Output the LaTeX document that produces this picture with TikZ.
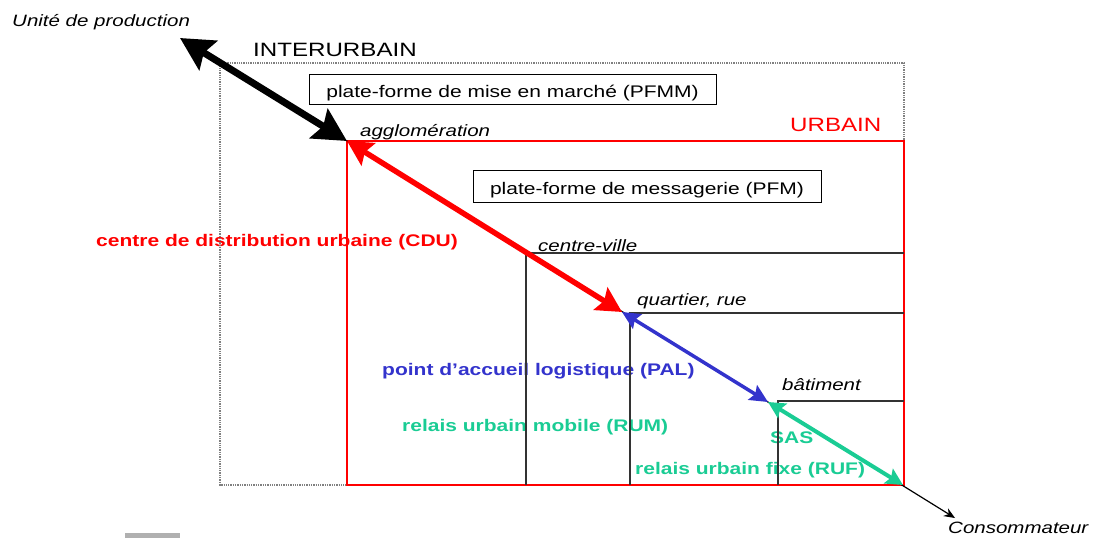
\documentclass[tikz,border=0pt]{standalone}
\usepackage{fontspec}
\setmainfont{Liberation Sans}[FakeStretch=1.25]
\usepackage{tikz}
\usetikzlibrary{arrows.meta,positioning}
\definecolor{palblue}{RGB}{51,51,204}
\definecolor{rugreen}{RGB}{26,204,148}
\definecolor{bargray}{RGB}{176,176,176}
\newcommand{\txtsize}{\fontsize{16.8}{20}\selectfont}
\newcommand{\smallsize}{\fontsize{16.4}{20}\selectfont}
\newcommand{\zonesize}{\fontsize{19.3}{23}\selectfont}

\begin{document}
\begin{tikzpicture}[x=1pt,y=-1pt,
    lab/.style={anchor=base west,inner sep=0pt,font=\txtsize},
    place/.style={anchor=base west,inner sep=0pt,font=\smallsize\itshape},
    zone/.style={anchor=base west,inner sep=0pt,font=\zonesize},
    pfbox/.style={draw,line width=1pt,font=\txtsize,text height=17pt,text depth=0pt,inner sep=0pt},
    sep/.style={black!80,line width=1.1pt}]
      % Fix picture size
      \useasboundingbox (0,0) rectangle (1093,538);
      % Define coordinates
      \coordinate (prod) at (180,38);
      \coordinate (agglo) at (347,141);
      \coordinate (quart) at (622,312);
      \coordinate (bat) at (768,402);
      \coordinate (ruf) at (903,485);
      \coordinate (conso) at (955,518);
      % Labels
      \node[place] (lprod) at (12,27) {Unité de production};
      \node[zone] (linter) at (253,56) {INTERURBAIN};
      \node[zone,red] (lurb) at (790,131) {URBAIN};
      \node[place] (lagglo) at (360,136) {agglomération};
      \node[place] (lcv) at (538,251) {centre-ville};
      \node[place] (lquart) at (637,305) {quartier, rue};
      \node[place] (lbat) at (782,390) {bâtiment};
      \node[place] (lconso) at (948,533) {Consommateur};
      \node[lab,font=\txtsize\bfseries,red] (lcdu) at (96,246) {centre de distribution urbaine (CDU)};
      \node[lab,font=\txtsize\bfseries,palblue] (lpal) at (382,375) {point d’accueil logistique (PAL)};
      \node[lab,font=\txtsize\bfseries,rugreen] (lrum) at (402,431) {relais urbain mobile (RUM)};
      \node[lab,font=\txtsize\bfseries,rugreen] (lsas) at (770,443) {SAS};
      \node[lab,font=\txtsize\bfseries,rugreen] (lruf) at (635,474) {relais urbain fixe (RUF)};
      % Zones
      \draw[gray,densely dotted,line width=1.3pt] (220,63) rectangle (904,485);
      \draw[red,line width=1.2pt] (agglo) rectangle (904,485);
      \draw[sep] (526,485) |- (904,253);
      \draw[sep] (630,485) |- (904,313);
      \draw[sep] (778,485) |- (904,401);
      % Platforms
      \node[pfbox,minimum width=407pt,minimum height=30pt] (pfmm) at (512.5,89.3) {plate-forme de mise en marché (PFMM)};
      \node[pfbox,minimum width=348pt,minimum height=32pt] (pfm) at (647,186) {plate-forme de messagerie (PFM)};
      % Flows
      \draw[line width=1.2pt,-{Stealth[length=11pt,width=9pt]}] (agglo) -- (conso);
      \draw[line width=7pt,{Stealth[length=33pt,width=34pt,inset=5pt]}-{Stealth[length=33pt,width=34pt,inset=5pt]}] (prod) -- (agglo);
      \draw[red,line width=5.5pt,{Stealth[length=25pt,width=26pt,inset=4pt]}-{Stealth[length=25pt,width=26pt,inset=4pt]}] (agglo) -- (quart);
      \draw[palblue,line width=3.5pt,{Stealth[length=18pt,width=17pt,inset=3pt]}-{Stealth[length=18pt,width=17pt,inset=3pt]}] (quart) -- (bat);
      \draw[rugreen,line width=4pt,{Stealth[length=17pt,width=17pt,inset=3pt]}-{Stealth[length=17pt,width=17pt,inset=3pt]}] (bat) -- (ruf);
      % Mark
      \fill[bargray] (125,533) rectangle (180,538);
\end{tikzpicture}
\end{document}
